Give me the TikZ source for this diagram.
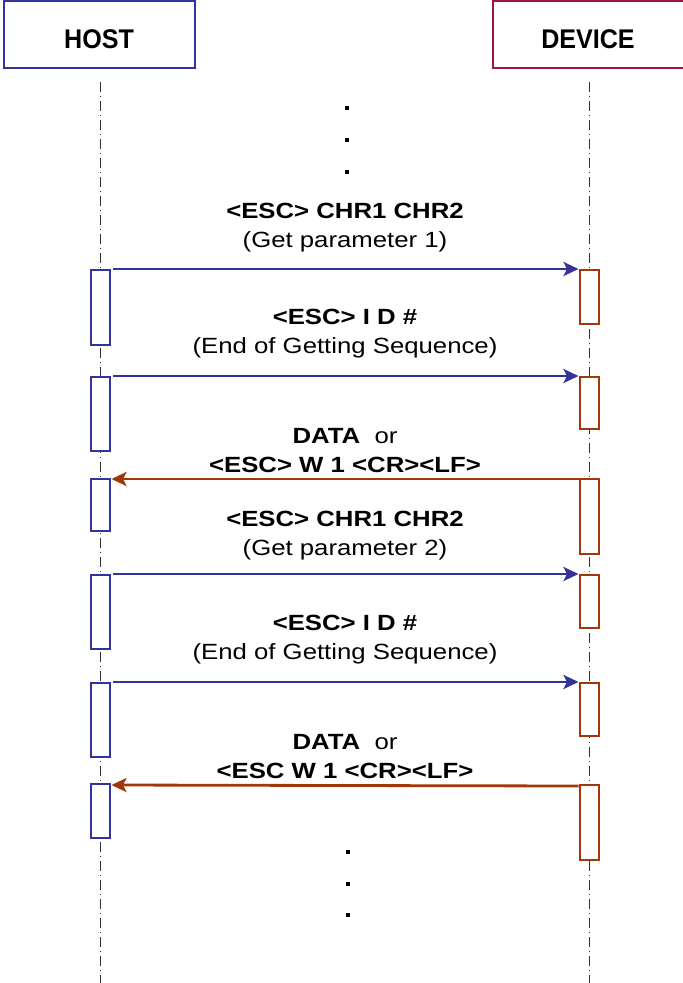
\documentclass[tikz,border=0pt]{standalone}
\usepackage{fontspec}
\setmainfont{Liberation Sans}[FakeStretch=1.17]
\newfontfamily\actorfont{Liberation Sans}[FakeStretch=0.93]
\usetikzlibrary{arrows.meta}
\definecolor{hostblue}{RGB}{51,51,153}
\definecolor{devred}{RGB}{160,20,60}
\definecolor{devbrown}{RGB}{160,56,10}
\tikzset{
  actor/.style={draw, line width=2pt, minimum width=191pt, minimum height=67pt, inner sep=0pt, text height=28pt, text depth=0pt, font=\actorfont\fontsize{27}{30}\selectfont\bfseries},
  lifeline/.style={line width=1pt, black!80, dash pattern=on 10pt off 4pt on 1pt off 4pt},
  hostbar/.style={draw=hostblue, fill=white, line width=2pt, minimum width=19pt, inner sep=0pt, anchor=north},
  devbar/.style={draw=devbrown, fill=white, line width=2pt, minimum width=19pt, inner sep=0pt, anchor=north},
  msg/.style={line width=2.8pt, -{Stealth[length=15pt,width=14pt,inset=3.5pt]}},
  msglabel/.style={align=center, font=\fontsize{22}{29}\selectfont},
  dotmark/.style={fill=black, minimum size=4pt, inner sep=0pt},
}
\begin{document}
\begin{tikzpicture}[x=1pt, y=-1pt]
  \useasboundingbox (0,0) rectangle (683,983);
  % actors
  \node[actor, draw=hostblue] (host) at (99,34.5) {HOST};
  \node[actor, draw=devred] (device) at (588,34.5) {DEVICE};
  % lifelines
  \coordinate (hosttop) at (100,82);
  \coordinate (hostend) at (100,983);
  \coordinate (devtop) at (589,82);
  \coordinate (devend) at (589,983);
  \draw[lifeline] (hosttop) -- (hostend);
  \draw[lifeline] (devtop) -- (devend);
  % activation bars
  \node[hostbar, minimum height=75pt] (h1) at (100,269) {};
  \node[hostbar, minimum height=74pt] (h2) at (100,376) {};
  \node[hostbar, minimum height=52pt] (h3) at (100,478) {};
  \node[hostbar, minimum height=74pt] (h4) at (100,574) {};
  \node[hostbar, minimum height=74pt] (h5) at (100,682) {};
  \node[hostbar, minimum height=54pt] (h6) at (100,783) {};
  \node[devbar, minimum height=54pt] (d1) at (589,269) {};
  \node[devbar, minimum height=52pt] (d2) at (589,376) {};
  \node[devbar, minimum height=75pt] (d3) at (589,478) {};
  \node[devbar, minimum height=53pt] (d4) at (589,574) {};
  \node[devbar, minimum height=53pt] (d5) at (589,682) {};
  \node[devbar, minimum height=75pt] (d6) at (589,784) {};
  % messages
  \draw[msg, hostblue] ([xshift=2pt]h1.north east) -- (d1.north west);
  \draw[msg, hostblue] ([xshift=2pt]h2.north east) -- (d2.north west);
  \draw[msg, devbrown] ([yshift=-1pt]d3.north west) -- ([yshift=-1pt,xshift=1pt]h3.north east);
  \draw[msg, hostblue] ([xshift=2pt]h4.north east) -- (d4.north west);
  \draw[msg, hostblue] ([xshift=2pt]h5.north east) -- (d5.north west);
  \draw[msg, devbrown] ([yshift=-2pt]d6.north west) -- ([yshift=-2pt,xshift=1pt]h6.north east);
  % labels
  \node[msglabel] (m1) at (345,227.5) {\textbf{<ESC> CHR1 CHR2}\\(Get parameter 1)};
  \node[msglabel] (m2) at (345,334) {\textbf{<ESC> I D \#}\\(End of Getting Sequence)};
  \node[msglabel] (m3) at (345,450.5) {\textbf{DATA}\ \ or\\\textbf{<ESC> W 1 <CR><LF>}};
  \node[msglabel] (m4) at (345,536) {\textbf{<ESC> CHR1 CHR2}\\(Get parameter 2)};
  \node[msglabel] (m5) at (345,639.5) {\textbf{<ESC> I D \#}\\(End of Getting Sequence)};
  \node[msglabel] (m6) at (345,756.5) {\textbf{DATA}\ \ or\\\textbf{<ESC W 1 <CR><LF>}};
  % continuation dots
  \node[dotmark] (top1) at (347,108) {};
  \node[dotmark] (top2) at (347,140) {};
  \node[dotmark] (top3) at (347,172) {};
  \node[dotmark] (bot1) at (348,852) {};
  \node[dotmark] (bot2) at (348,884) {};
  \node[dotmark] (bot3) at (348,915) {};
\end{tikzpicture}
\end{document}
